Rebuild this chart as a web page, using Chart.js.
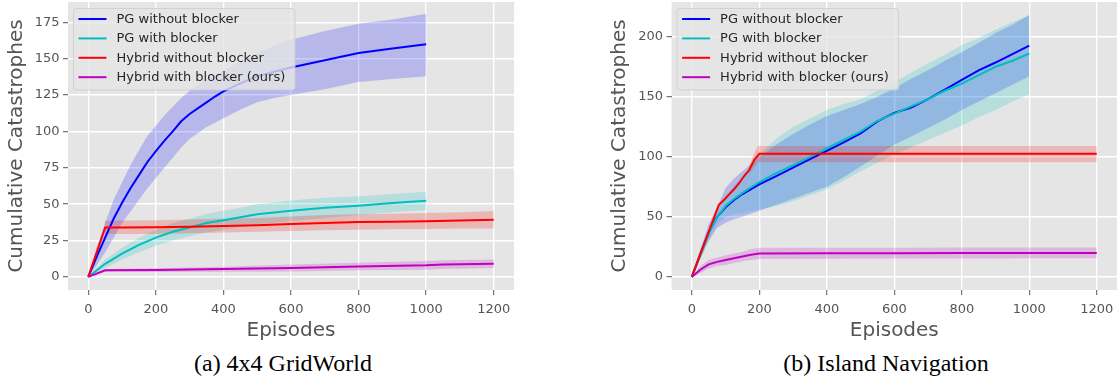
<!DOCTYPE html>
<html>
<head>
<meta charset="utf-8">
<script src="https://cdn.jsdelivr.net/npm/chart.js@4.4.1/dist/chart.umd.min.js"></script>
<style>
  html, body { margin: 0; padding: 0; background: #ffffff; }
  body { width: 1117px; height: 379px; position: relative; overflow: hidden; }
  canvas { position: absolute; top: 0; }
  #cvA { left: 0; }
  #cvB { left: 560px; }
  .cap { position: absolute; top: 351px; width: 400px; text-align: center;
         font-family: "Liberation Serif", "Times New Roman", serif; font-size: 24px;
         line-height: 24px; color: #000; white-space: nowrap; }
</style>
</head>
<body>
<canvas id="cvA" width="560" height="347"></canvas>
<canvas id="cvB" width="557" height="347"></canvas>
<div class="cap" style="left:83px">(a) 4x4 GridWorld</div>
<div class="cap" style="left:686px">(b) Island Navigation</div>
<script>
// ---------- labels ----------
const seriesLabels = ['PG without blocker', 'PG with blocker', 'Hybrid without blocker', 'Hybrid with blocker (ours)'];
const xTicks = [0, 200, 400, 600, 800, 1000, 1200];
const yTicksGW = [0, 25, 50, 75, 100, 125, 150, 175];
const yTicksIS = [0, 50, 100, 150, 200];

// ---------- (a) 4x4 GridWorld ----------
const gwEpPG     = [0,25,50,75,100,125,150,175,200,225,250,275,300,325,350,375,400,450,500,550,600,700,800,900,1000];
const gwPgNoMean = [0,14,27,40,51,61,70,79,86.5,93.5,100,107,112,116,120,124,127.5,133,138,141,144,149,154,157,160];
const gwPgNoLo   = [0,8,17,27,37,45,53,61,68,75,82,89,95,99,103,106,109,115,120,123,125,129,134,136,138];
const gwPgNoHi   = [0,20,37,53,65,77,87,97,104,111,117,123,128,132,136,139,142,148,154,159,163,169,174,177,181];

const gwEpC       = [0,50,100,150,200,250,300,350,400,450,500,600,700,800,900,1000];
const gwPgBlkMean = [0,9,16,22,27,31,34,37,39,41,43,45.5,47.5,49,50.8,52.4];
const gwPgBlkLo   = [0,6,12,17,21.5,25,28,30.5,32.5,34.5,36,38.5,40.5,42.5,44.5,46];
const gwPgBlkHi   = [0,12,20,27,32.5,37,40,43.5,45.5,47.5,50,52.5,54.5,55.5,57,58.5];

const gwEpH      = [0,50,100,200,300,400,500,600,700,800,900,1000,1100,1200];
const gwHyNoMean = [0,34,34,34.2,34.5,35,35.6,36.3,37,37.7,38,38.3,38.8,39.3];
const gwEpHBand  = [48,100,200,300,400,500,600,700,800,900,1000,1100,1200];
const gwHyNoLo   = [29.5,29.5,29.5,30,30.5,31,31.5,32,32.5,32.8,33,33.2,33.3];
const gwHyNoHi   = [38.6,38.8,39,39.5,40,40.5,41.5,42.5,43,43.5,44,44.5,45.3];

const gwEpM       = [0,50,200,400,600,800,1000,1050,1200];
const gwHyBlkMean = [0,4.5,4.7,5.5,6.2,7.2,8,8.5,9.1];
const gwHyBlkLo   = [0,3.5,3.3,3.5,3.8,4.5,5,5.5,6.2];
const gwHyBlkHi   = [0,5.5,6,7,8.5,9.8,11,11.5,12];

// ---------- (b) Island Navigation ----------
const isEpPG      = [0,25,50,75,100,125,150,200,250,300,350,400,450,500,550,600,650,700,750,800,850,900,950,1000];
const isPgNoMean  = [0,19,37,50,58,64,69,77,84,91,98,105,112,119.5,129.5,136.5,141,148,156,164,172,178.5,185.5,192.6];
const isPgNoLo    = [0,15,30,41,45,48,50,55,60,65,70,75,83,92,101,110,117,124,131,139,146,153,160,167];
const isPgNoHi    = [0,23,44,58,74,82,88,100,110,119,127,134,139,144,150,157,165,172,180,187,195,203,210,218];
const isPgBlkMean = [0,18,36,50,59,65,70,79,86.5,93,100,107,114,121,130,136,142,148,155,161,168,175,180,186];
const isPgBlkLo   = [0,16,31,44,50,52,53,56,59,63,68,73,80,88,95,102,108,114,120,126,133,139,146,152];
const isPgBlkHi   = [0,21,42,55,68,76,84,102,115,125,132,139,144,148,155,162,170,178,185,193,199,206,212,218];

const isEpH      = [0,40,80,95,110,125,140,155,170,185,200,400,600,800,1000,1200];
const isHyNoMean = [0,30,60,64,68.5,73,78,84,89,97.5,102.5,102.5,102.5,102.5,102.5,102.5];
const isEpHBand  = [170,185,195,400,600,800,1000,1200];
const isHyNoLo   = [85,92,95.5,95.5,95.5,95.5,95.5,95.5];
const isHyNoHi   = [93,103,109,109,109,109,109,109];

const isEpM       = [0,25,50,75,100,125,150,175,200,400,600,800,1000,1200];
const isHyBlkMean = [0,6,10.5,12.5,14,15.5,17,18.5,19.5,19.7,19.8,19.9,20,20];
const isHyBlkLo   = [0,3,7,9,10,11.5,13,14,15,15.2,15.3,15.4,15.5,15.5];
const isHyBlkHi   = [0,9,14,16,18,19.5,21,23,24.3,24.3,24.3,24.4,24.5,24.5];

// ---------- styling ----------
const lineColors = ['#0000ff', '#00bfbf', '#ff0000', '#bf00bf'];
const bandColors = ['rgba(0,0,255,0.2)', 'rgba(0,191,191,0.2)', 'rgba(255,0,0,0.2)', 'rgba(191,0,191,0.2)'];

Chart.defaults.font.family = '"DejaVu Sans", sans-serif';

function pts(xs, ys) { return xs.map((x, i) => ({ x: x, y: ys[i] })); }

function buildDatasets(series) {
  const ds = [];
  series.forEach((s, i) => {
    ds.push({ label: '_lo' + i, data: pts(s.bx, s.lo), borderColor: 'rgba(0,0,0,0)', borderWidth: 0,
              pointRadius: 0, fill: false, order: 20 - i });
    ds.push({ label: '_hi' + i, data: pts(s.bx, s.hi), borderColor: 'rgba(0,0,0,0)', borderWidth: 0,
              pointRadius: 0, fill: '-1', backgroundColor: bandColors[i], order: 20 - i });
  });
  series.forEach((s, i) => {
    ds.push({ label: seriesLabels[i], data: pts(s.x, s.mean), borderColor: lineColors[i], borderWidth: 2,
              pointRadius: 0, fill: false, tension: 0, order: 10 - i });
  });
  return ds;
}

const bgPlugin = {
  id: 'plotBg',
  beforeDraw(chart) {
    const { ctx, chartArea: a } = chart;
    ctx.save();
    ctx.fillStyle = '#e5e5e5';
    ctx.fillRect(a.left, a.top, a.right - a.left, a.bottom - a.top);
    ctx.restore();
  }
};

const legendPlugin = {
  id: 'mplLegend',
  afterDatasetsDraw(chart) {
    const { ctx, chartArea: a } = chart;
    const x0 = a.left + 5.5, y0 = a.top + 6.5, w = 221.5, h = 81.5, r = 3;
    ctx.save();
    ctx.beginPath();
    ctx.moveTo(x0 + r, y0);
    ctx.lineTo(x0 + w - r, y0); ctx.quadraticCurveTo(x0 + w, y0, x0 + w, y0 + r);
    ctx.lineTo(x0 + w, y0 + h - r); ctx.quadraticCurveTo(x0 + w, y0 + h, x0 + w - r, y0 + h);
    ctx.lineTo(x0 + r, y0 + h); ctx.quadraticCurveTo(x0, y0 + h, x0, y0 + h - r);
    ctx.lineTo(x0, y0 + r); ctx.quadraticCurveTo(x0, y0, x0 + r, y0);
    ctx.closePath();
    ctx.fillStyle = 'rgba(229,229,229,0.8)';
    ctx.fill();
    ctx.strokeStyle = 'rgba(204,204,204,0.8)';
    ctx.lineWidth = 1;
    ctx.stroke();
    ctx.font = '13px "DejaVu Sans", sans-serif';
    ctx.textBaseline = 'middle';
    ctx.textAlign = 'left';
    seriesLabels.forEach((lab, i) => {
      const y = a.top + 17 + i * 19.4;
      ctx.beginPath();
      ctx.moveTo(x0 + 5, y); ctx.lineTo(x0 + 33, y);
      ctx.strokeStyle = lineColors[i]; ctx.lineWidth = 2; ctx.stroke();
      ctx.fillStyle = '#262626';
      ctx.fillText(lab, x0 + 43, y + 0.5);
    });
    ctx.restore();
  }
};

function makeChart(id, series, yMin, yMax, yTicks, padLeft, padRight) {
  return new Chart(document.getElementById(id), {
    type: 'line',
    data: { datasets: buildDatasets(series) },
    plugins: [bgPlugin, legendPlugin],
    options: {
      responsive: false, animation: false, devicePixelRatio: 1,
      layout: { padding: { left: padLeft, right: padRight, top: 2, bottom: 0 } },
      plugins: { legend: { display: false }, tooltip: { enabled: false } },
      scales: {
        x: {
          type: 'linear', min: -60, max: 1260,
          afterBuildTicks: s => { s.ticks = xTicks.map(v => ({ value: v })); },
          afterFit: s => { s.height = 57; s.paddingLeft = 0; s.paddingRight = 0; },
          grid: { color: '#ffffff', lineWidth: 1.4, tickColor: '#555555', tickLength: 5, tickWidth: 1 },
          border: { display: false },
          ticks: { color: '#555555', font: { size: 13 }, padding: 7, maxRotation: 0, autoSkip: false,
                   callback: v => String(v) },
          title: { display: true, text: 'Episodes', color: '#555555', font: { size: 20 },
                   padding: { top: 4, bottom: 4 } }
        },
        y: {
          type: 'linear', min: yMin, max: yMax,
          afterBuildTicks: s => { s.ticks = yTicks.map(v => ({ value: v })); },
          afterFit: s => { s.width = 68; s.paddingTop = 0; s.paddingBottom = 0; },
          grid: { color: '#ffffff', lineWidth: 1.4, tickColor: '#555555', tickLength: 5, tickWidth: 1 },
          border: { display: false },
          ticks: { color: '#555555', font: { size: 13 }, padding: 3.5, autoSkip: false,
                   callback: v => String(v) },
          title: { display: true, text: 'Cumulative Catastrophes', color: '#555555', font: { size: 20 },
                   padding: { top: 4.5, bottom: 4 } }
        }
      }
    }
  });
}

makeChart('cvA', [
  { x: gwEpPG, mean: gwPgNoMean, bx: gwEpPG, lo: gwPgNoLo, hi: gwPgNoHi },
  { x: gwEpC, mean: gwPgBlkMean, bx: gwEpC, lo: gwPgBlkLo, hi: gwPgBlkHi },
  { x: gwEpH, mean: gwHyNoMean, bx: gwEpHBand, lo: gwHyNoLo, hi: gwHyNoHi },
  { x: gwEpM, mean: gwHyBlkMean, bx: gwEpM, lo: gwHyBlkLo, hi: gwHyBlkHi }
], -9, 189, yTicksGW, 0, 46);

makeChart('cvB', [
  { x: isEpPG, mean: isPgNoMean, bx: isEpPG, lo: isPgNoLo, hi: isPgNoHi },
  { x: isEpPG, mean: isPgBlkMean, bx: isEpPG, lo: isPgBlkLo, hi: isPgBlkHi },
  { x: isEpH, mean: isHyNoMean, bx: isEpHBand, lo: isHyNoLo, hi: isHyNoHi },
  { x: isEpM, mean: isHyBlkMean, bx: isEpM, lo: isHyBlkLo, hi: isHyBlkHi }
], -10.9, 228.9, yTicksIS, 43.6, 0);
</script>
</body>
</html>
